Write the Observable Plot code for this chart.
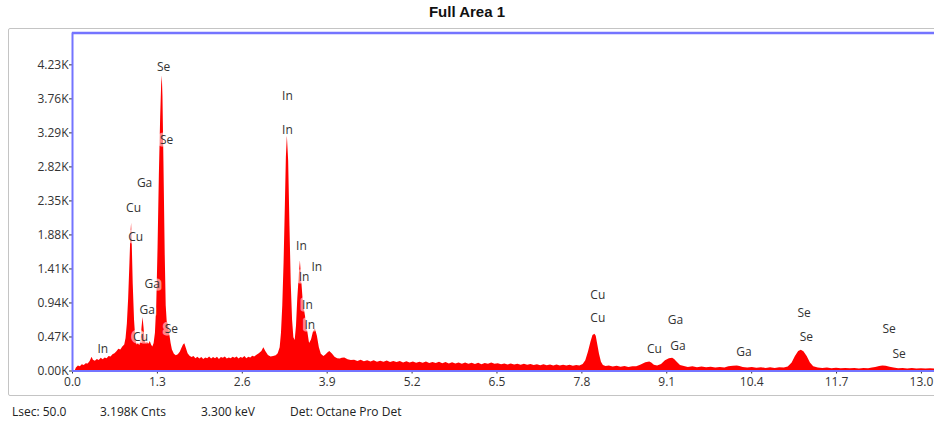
<!DOCTYPE html>
<html>
<head>
<meta charset="utf-8">
<script src="https://cdn.jsdelivr.net/npm/d3@7"></script>
<script src="https://cdn.jsdelivr.net/npm/@observablehq/plot@0.6"></script>
<style>
  html, body { margin: 0; padding: 0; background: #fff; overflow: hidden; width: 934px; height: 425px; }
  #wrap { position: relative; width: 934px; height: 425px; overflow: hidden; }
  #title { position: absolute; left: 0; top: 2px; width: 934px; text-align: center;
           font: bold 15px "Liberation Sans", Arial, sans-serif; color: #111; line-height: 20px; }
  #box { position: absolute; left: 8px; top: 28px; width: 960px; height: 368px;
         border: 1px solid #c4c4c4; border-radius: 2px; box-sizing: border-box; }
  #chart { position: absolute; left: 0; top: 0; width: 934px; height: 400px; overflow: hidden; }
  #chart svg { max-width: none !important; width: 944px !important; height: 400px !important; }
  #footer { position: absolute; top: 403px; left: 0; width: 934px; height: 18px;
            font: 12px "Open Sans", sans-serif; color: #222; }
  #footer span { position: absolute; top: 0; white-space: nowrap; }
</style>
</head>
<body>
<div id="wrap">
  <div id="title">Full Area 1</div>
  <div id="box"></div>
  <div id="chart"></div>
  <div id="footer"></div>
</div>
<script>
// Spectrum (energy in keV, counts)
const energy = [0.04,0.06,0.09,0.12,0.15,0.18,0.21,0.24,0.27,0.30,0.32,0.35,0.38,0.41,0.44,0.47,0.50,0.53,0.56,0.59,0.62,0.65,0.68,0.71,0.74,0.77,0.80,0.82,0.84,0.86,0.88,0.895,0.905,0.915,0.93,0.95,0.97,0.99,1.01,1.03,1.05,1.065,1.08,1.095,1.11,1.13,1.15,1.17,1.19,1.21,1.23,1.25,1.27,1.29,1.31,1.33,1.35,1.365,1.375,1.385,1.40,1.42,1.435,1.45,1.47,1.49,1.51,1.53,1.56,1.59,1.62,1.65,1.68,1.70,1.72,1.74,1.77,1.80,1.83,1.86,1.89,1.92,1.95,1.98,2.01,2.04,2.07,2.10,2.13,2.16,2.19,2.22,2.25,2.28,2.31,2.34,2.37,2.40,2.43,2.46,2.49,2.52,2.55,2.58,2.61,2.64,2.67,2.70,2.73,2.76,2.79,2.82,2.86,2.90,2.93,2.96,3.00,3.04,3.08,3.12,3.15,3.18,3.20,3.22,3.24,3.26,3.275,3.29,3.31,3.33,3.35,3.37,3.39,3.41,3.43,3.45,3.475,3.49,3.51,3.53,3.56,3.60,3.63,3.66,3.69,3.72,3.75,3.78,3.81,3.85,3.88,3.91,3.94,3.98,4.02,4.06,4.10,4.13,4.17,4.22,4.27,4.32,4.37,4.42,4.47,4.52,4.57,4.62,4.67,4.72,4.77,4.82,4.87,4.92,4.97,5.02,5.07,5.12,5.17,5.22,5.27,5.32,5.37,5.42,5.47,5.52,5.57,5.62,5.67,5.72,5.77,5.82,5.87,5.92,5.97,6.02,6.07,6.12,6.17,6.22,6.27,6.32,6.37,6.42,6.47,6.52,6.57,6.62,6.67,6.72,6.77,6.82,6.87,6.92,6.97,7.02,7.07,7.12,7.17,7.22,7.27,7.32,7.37,7.42,7.47,7.52,7.57,7.62,7.67,7.72,7.77,7.82,7.86,7.90,7.94,7.97,8.00,8.02,8.04,8.07,8.10,8.13,8.17,8.22,8.28,8.34,8.40,8.46,8.52,8.58,8.64,8.70,8.78,8.84,8.87,8.91,8.96,9.02,9.08,9.14,9.19,9.22,9.26,9.31,9.37,9.43,9.50,9.57,9.64,9.71,9.78,9.85,9.92,9.99,10.05,10.12,10.18,10.22,10.27,10.34,10.41,10.48,10.55,10.62,10.69,10.76,10.83,10.90,10.96,11.02,11.07,11.12,11.16,11.20,11.25,11.30,11.35,11.42,11.49,11.56,11.63,11.70,11.77,11.84,11.91,11.98,12.05,12.12,12.19,12.25,12.30,12.36,12.41,12.46,12.52,12.58,12.65,12.72,12.79,12.86,12.93,13.00,13.07,13.14,13.21,13.28,13.35];
const counts = [0,40,70,60,85,75,100,95,130,190,150,135,160,145,175,155,180,170,200,195,225,240,265,300,290,330,360,450,650,1000,1500,1900,2040,1750,1200,700,430,360,380,350,420,600,740,600,420,380,400,370,410,360,330,380,520,900,1700,2700,3500,3950,4080,3800,2900,1600,900,680,640,500,380,290,230,210,225,260,320,360,375,320,240,205,185,200,170,190,165,185,160,180,170,195,165,185,170,190,160,185,175,195,165,180,170,190,175,195,165,185,175,200,170,190,180,205,195,215,240,270,320,270,215,195,200,210,240,320,520,900,1500,2300,2950,3250,2900,2000,1200,700,460,420,620,1000,1350,1520,1250,1000,800,560,380,430,540,580,480,320,230,200,220,250,270,235,190,170,165,175,180,155,145,150,132,148,128,142,125,140,122,136,120,138,118,130,116,132,112,128,110,126,108,122,106,124,104,118,102,120,100,116,98,114,96,112,94,110,92,108,90,106,88,104,92,110,94,100,86,98,84,96,82,94,80,92,78,90,76,88,74,86,72,84,70,82,70,80,68,78,66,76,70,90,140,260,400,490,507,480,380,230,120,75,62,70,55,66,52,62,50,60,58,80,115,124,110,80,70,90,140,170,175,160,120,75,62,50,58,46,54,44,52,42,50,40,58,66,69,62,50,42,48,38,46,36,44,36,46,40,55,110,200,270,286,265,200,110,60,42,34,40,32,38,30,36,30,36,28,36,30,40,50,62,69,64,52,40,30,36,28,34,26,32,26,30,28,32,26];

// Peak marker labels
const labelText = ["Se","Se","Ga","Cu","Cu","Ga","Ga","Cu","Se","In","In","In","In","In","In","In","In","Cu","Cu","Ga","Ga","Cu","Ga","Se","Se","Se","Se"];
const labelEnergy = [1.395,1.441,1.104,0.935,0.966,1.222,1.145,1.042,1.513,0.465,3.291,3.291,3.506,3.741,3.546,3.598,3.633,8.044,8.044,9.233,9.270,8.912,10.282,11.202,11.237,12.505,12.658];
const labelCounts = [4193,3185,2591,2245,1849,1205,836,467,583,297,3793,3333,1720,1434,1296,905,629,1043,735,698,343,307,260,804,467,573,238];

// Axis ticks
const xTicks = [0,1.3,2.6,3.9,5.2,6.5,7.8,9.1,10.4,11.7,13.0];
const yTicks = [0,470,940,1410,1880,2350,2820,3290,3760,4230];

// Footer texts
const footerTexts = ["Lsec: 50.0","3.198K Cnts","3.300 keV","Det: Octane Pro Det"];

const spectrum = energy.map((e, i) => ({e, c: counts[i]}));
const labels = labelText.map((t, i) => ({t, e: labelEnergy[i], c: labelCounts[i]}));

const blue = "#7474ff";
const plot = Plot.plot({
  width: 944,
  height: 400,
  marginLeft: 72,
  marginRight: 0,
  marginTop: 32.5,
  marginBottom: 29.5,
  style: {fontFamily: "'Open Sans', sans-serif", fontSize: "12px", color: "#333", background: "transparent"},
  x: {domain: [0, 13.353], ticks: xTicks, tickFormat: d => d.toFixed(1), tickSize: 3, tickPadding: 3, label: null},
  y: {domain: [0, 4670], ticks: yTicks, tickFormat: d => (d / 1000).toFixed(2) + "K", tickSize: 3, tickPadding: 1, label: null},
  marks: [
    Plot.areaY(spectrum, {x: "e", y: "c", fill: "#ff0000", curve: "linear"}),
    Plot.text(labels, {x: "e", y: "c", text: "t", fill: "#333", fontSize: 12, textAnchor: "middle", lineAnchor: "middle",
                       stroke: "white", strokeOpacity: 0.55, strokeWidth: 5}),
    Plot.ruleX([0], {stroke: blue, strokeWidth: 2}),
    Plot.ruleY([0], {stroke: blue, strokeWidth: 2}),
    Plot.ruleY([4670], {stroke: blue, strokeWidth: 2.5})
  ]
});
document.getElementById("chart").appendChild(plot);

const footerX = [12, 100, 201, 290];
const footer = document.getElementById("footer");
footerTexts.forEach((t, i) => {
  const s = document.createElement("span");
  s.textContent = t;
  s.style.left = footerX[i] + "px";
  footer.appendChild(s);
});
</script>
</body>
</html>
